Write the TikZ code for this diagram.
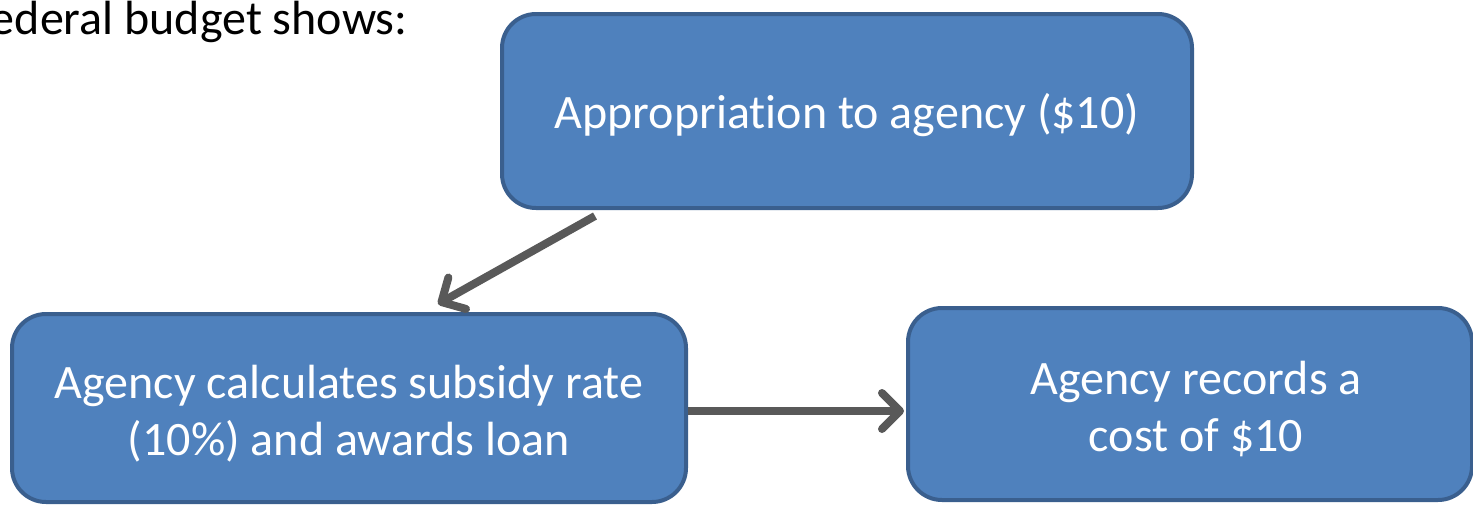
\documentclass[tikz,border=0pt]{standalone}
\usepackage{fontspec}
\setmainfont{Carlito}[Ligatures=NoCommon]
\usetikzlibrary{arrows.meta}
\definecolor{boxfill}{HTML}{4F81BD}
\definecolor{boxline}{HTML}{3A5F8E}
\definecolor{arrowgray}{HTML}{595959}
\begin{document}
\begin{tikzpicture}[x=0.5pt,y=-0.5pt,
  box/.style={draw=boxline, line width=2pt, fill=boxfill, rounded corners=17pt, inner sep=0pt},
  boxtext/.style={text=white, align=center, inner sep=0pt, font=\fontsize{24}{28.5}\selectfont},
  conn/.style={draw=arrowgray, line width=4pt,
    -{Straight Barb[length=9pt,width=18pt,line cap=round,line join=round]}}]
\useasboundingbox (0,0) rectangle (1473,504);
\clip (0,0) rectangle (1473,504);
\node[anchor=base east, inner sep=0pt, font=\fontsize{24}{28}\selectfont] (title) at (408,34) {Federal budget shows:};
\node[box, minimum width=345pt, minimum height=97pt] (top) at (847,111) {};
\node[box, minimum width=337pt, minimum height=94pt] (left) at (349,408) {};
\node[box, minimum width=282pt, minimum height=96pt] (right) at (1190,404) {};
\node[boxtext] (toptext) at ([yshift=-2pt]top.center) {Appropriation to agency (\$10)};
\node[boxtext] (lefttext) at ([yshift=-3pt]left.center) {Agency calculates subsidy rate\\(10\%) and awards loan};
\node[boxtext] (righttext) at ([xshift=3pt,yshift=-2.5pt]right.center) {Agency records a\\cost of \$10};
\draw[conn] ([xshift=47.5pt,yshift=-3pt]top.south west) -- ([xshift=214pt,yshift=4pt]left.north west);
\draw[conn] (left.east |- 0,411) -- ([xshift=-1pt]right.west |- 0,411);
\end{tikzpicture}
\end{document}
